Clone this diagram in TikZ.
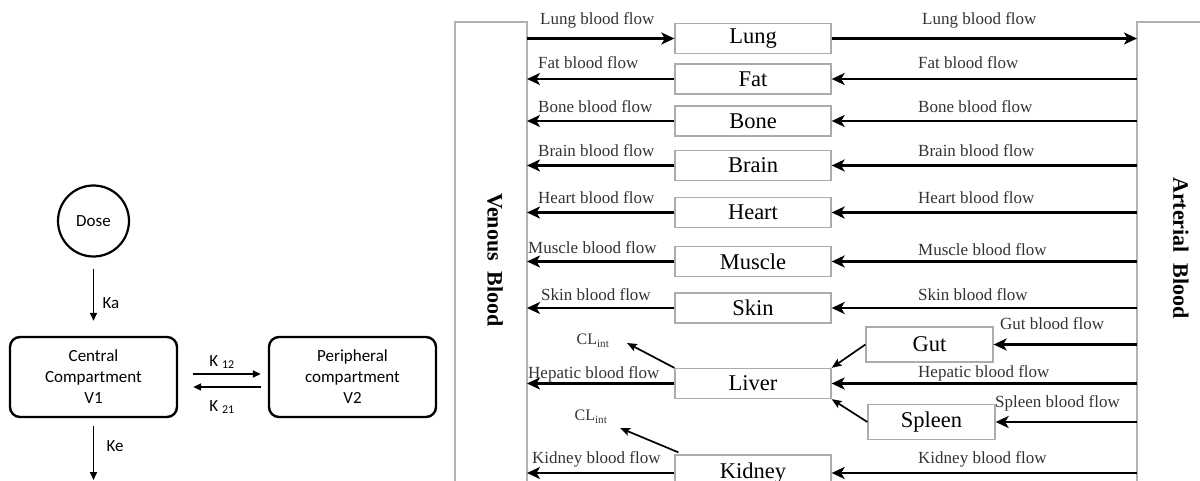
\documentclass[tikz,border=0pt]{standalone}
\usepackage{fontspec}
\setmainfont{Liberation Serif}
\newfontfamily\calib{Carlito}
\usetikzlibrary{arrows.meta}

\begin{document}
\begin{tikzpicture}[x=1pt,y=-1pt,
  % two-compartment model
  pkbox/.style={draw,line width=2.4pt,rounded corners=10pt,minimum width=167pt,
    minimum height=80pt,align=center,inner sep=0pt,
    font=\calib\fontsize{17}{21}\selectfont},
  pkcircle/.style={draw,circle,line width=2.2pt,minimum size=71pt,inner sep=0pt,
    font=\calib\fontsize{17}{20}\selectfont},
  karrow/.style={line width=1.6pt,-{Triangle[length=8pt,width=7pt]}},
  klabel/.style={font=\calib\fontsize{17}{20}\selectfont,inner sep=0pt},
  % PBPK scheme
  organ/.style={draw=gray!65,line width=1.3pt,minimum width=156pt,minimum height=30pt,
    inner sep=0pt,font=\fontsize{22.5}{24}\selectfont},
  small organ/.style={organ,minimum width=127pt,minimum height=35pt},
  wall/.style={draw=gray!60,line width=1.3pt},
  flow/.style={line width=2.7pt,-{Stealth[length=13pt,width=12pt,inset=3.5pt]}},
  thinflow/.style={line width=1.7pt,-{Stealth[length=10pt,width=8pt,inset=2pt]}},
  lbl/.style={font=\fontsize{17}{19}\selectfont,inner sep=0pt,anchor=base west,text=black!80},
  cl/.style={font=\fontsize{16}{18}\selectfont,inner sep=0pt,text=black!80},
  blood/.style={rotate=-90,font=\bfseries\fontsize{22}{24}\selectfont,inner sep=0pt}
]
\useasboundingbox (0,0) rectangle (1200,481);

% ---------- two-compartment model ----------
\node[pkcircle] (dose) at (93.5,221) {Dose};
\node[pkbox] (central) at (93.5,377) {Central\\Compartment\\V1};
\node[pkbox] (periph) at (352.5,377) {Peripheral\\compartment\\V2};
\coordinate (elim) at (93.5,480);

\draw[karrow,shorten <=11pt,shorten >=15pt] (dose) -- (central);
\node[klabel] (ka) at (111,303) {Ka};
\draw[karrow,shorten <=15pt,shorten >=7pt] ([yshift=3pt]central.east) -- ([yshift=3pt]periph.west);
\draw[karrow,shorten <=7pt,shorten >=15pt] ([yshift=-10pt]periph.west) -- ([yshift=-10pt]central.east);
\node[klabel] (k12) at (222,362) {K \textsubscript{12}};
\node[klabel] (k21) at (222,407) {K \textsubscript{21}};
\draw[karrow,shorten <=8pt] (central.south) -- (elim);
\node[klabel] (ke) at (115,446) {Ke};

% ---------- blood pools ----------
\draw[wall] (455,481) -- (455,22) -- (527,22) -- (527,481);
\draw[wall] (1200,22) -- (1137,22) -- (1137,481);
\coordinate (vw) at (527,0);
\coordinate (aw) at (1137,0);
\node[blood] (venous) at (495,260) {Venous\ \ Blood};
\node[blood] (arterial) at (1181,248) {Arterial\ \ Blood};

% ---------- organs ----------
\node[organ] (lung)   at (753,38.5)  {Lung};
\node[organ] (fat)    at (753,79)    {Fat};
\node[organ] (bone)   at (753,121)   {Bone};
\node[organ] (brain)  at (753,165.5) {Brain};
\node[organ] (heart)  at (753,212.5) {Heart};
\node[organ] (muscle) at (753,261.5) {Muscle};
\node[organ] (skin)   at (753,308)   {Skin};
\node[organ] (liver)  at (753,383.5) {Liver};
\node[organ,minimum height=36pt] (kidney) at (753,473) {Kidney};
\node[small organ] (gut)    at (929.5,344.5) {Gut};
\node[small organ] (spleen) at (931.5,422)   {Spleen};

% ---------- blood flows ----------
\draw[flow] (lung.west -| vw) -- (lung.west);
\draw[flow] (lung.east) -- (lung.east -| aw);
\foreach \o in {fat,bone,brain,heart,muscle,skin,liver,kidney}{
  \draw[flow] (\o.west) -- (\o.west -| vw);
  \draw[flow] (\o.east -| aw) -- (\o.east);
}
\draw[flow] (gut.east -| aw) -- (gut.east);
\draw[flow] (spleen.east -| aw) -- (spleen.east);
\draw[thinflow] (gut.west) -- (liver.north east);
\draw[thinflow] (spleen.west) -- (liver.south east);

% intrinsic clearances
\node[cl] (cl1) at (593,341) {CL\textsubscript{int}};
\node[cl] (cl2) at (591,417) {CL\textsubscript{int}};
\coordinate (cl1tip) at (627,343);
\coordinate (cl2tip) at (620,428);
\draw[thinflow] (liver.north west) -- (cl1tip);
\draw[thinflow] ([xshift=4pt,yshift=2pt]kidney.north west) -- (cl2tip);

% ---------- flow labels ----------
\node[lbl] (l-lung)   at (540,25)  {Lung blood flow};
\node[lbl] (l-fat)    at (538,69)  {Fat blood flow};
\node[lbl] (l-bone)   at (538,113) {Bone blood flow};
\node[lbl] (l-brain)  at (538,157) {Brain blood flow};
\node[lbl] (l-heart)  at (538,204) {Heart blood flow};
\node[lbl] (l-muscle) at (528,254) {Muscle blood flow};
\node[lbl] (l-skin)   at (541,300) {Skin blood flow};
\node[lbl] (l-liver)  at (528,378) {Hepatic blood flow};
\node[lbl] (l-kidney) at (532,463) {Kidney blood flow};

\node[lbl] (r-lung)   at (922,25)  {Lung blood flow};
\node[lbl] (r-fat)    at (918,69)  {Fat blood flow};
\node[lbl] (r-bone)   at (918,113) {Bone blood flow};
\node[lbl] (r-brain)  at (918,157) {Brain blood flow};
\node[lbl] (r-heart)  at (918,204) {Heart blood flow};
\node[lbl] (r-muscle) at (918,255) {Muscle blood flow};
\node[lbl] (r-skin)   at (918,300) {Skin blood flow};
\node[lbl] (r-gut)    at (1000,330) {Gut blood flow};
\node[lbl] (r-liver)  at (918,377) {Hepatic blood flow};
\node[lbl] (r-spleen) at (995,407) {Spleen blood flow};
\node[lbl] (r-kidney) at (918,463) {Kidney blood flow};
\end{tikzpicture}
\end{document}
